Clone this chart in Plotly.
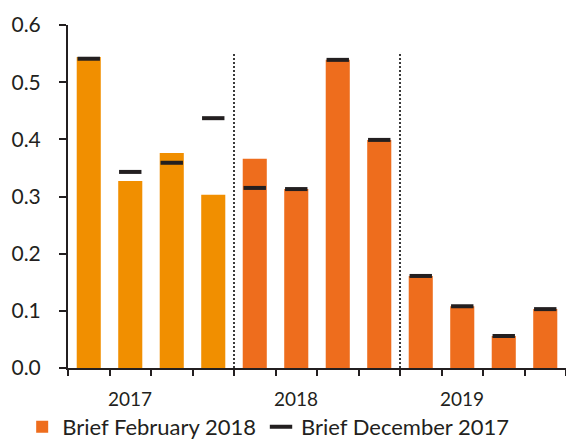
import plotly.graph_objects as go

# ---- data ----
years = ["2017", "2018", "2019"]
quarters_per_year = 4
feb2018 = [0.544, 0.327, 0.376, 0.303, 0.366, 0.313, 0.539, 0.399, 0.161, 0.108, 0.056, 0.103]
dec2017 = [0.541, 0.343, 0.359, 0.437, 0.315, 0.313, 0.539, 0.399, 0.161, 0.108, 0.056, 0.103]
y_ticks = [0.0, 0.1, 0.2, 0.3, 0.4, 0.5, 0.6]
y_tick_text = ["0.0", "0.1", "0.2", "0.3", "0.4", "0.5", "0.6"]
series_names = ["Brief February 2018", "Brief December 2017"]

# ---- styles ----
C_2017 = "#F18F00"
C_BAR = "#EE6D1D"
C_DARK = "#231F20"
FONT = "Lato"

n = len(feb2018)
xs = list(range(n))
x_hist = xs[:quarters_per_year]
x_fut = xs[quarters_per_year:]

fig = go.Figure()
fig.add_trace(go.Bar(
    x=x_fut, y=feb2018[quarters_per_year:], name=series_names[0],
    marker=dict(color=C_BAR, line=dict(width=0)), width=0.58,
    showlegend=True,
))
fig.add_trace(go.Bar(
    x=x_hist, y=feb2018[:quarters_per_year], name=series_names[0],
    marker=dict(color=C_2017, line=dict(width=0)), width=0.58,
    showlegend=False,
))
fig.add_trace(go.Scatter(
    x=xs, y=dec2017, name=series_names[1], mode="markers",
    marker=dict(symbol="line-ew", size=16, color=C_DARK,
                line=dict(width=4, color=C_DARK)),
))

# dotted separators between years
for k in range(1, len(years)):
    xb = k * quarters_per_year - 0.5
    fig.add_shape(type="line", xref="x", yref="y", x0=xb, x1=xb, y0=0, y1=0.552,
                  line=dict(color="#3a3a3a", width=2, dash="2px,2px"), layer="above")

# year labels (under second bar of each group)
for i, yr in enumerate(years):
    fig.add_annotation(x=i * quarters_per_year + 1, y=-0.09, xref="x", yref="paper",
                       text=yr, showarrow=False, yanchor="middle",
                       font=dict(family=FONT, size=19, color=C_DARK))

bounds = [i - 0.5 for i in range(n + 1)]
fig.update_layout(
    width=566, height=439,
    margin=dict(l=68, r=0, t=25, b=71, autoexpand=False),
    plot_bgcolor="white", paper_bgcolor="white",
    barmode="overlay",
    font=dict(family=FONT, color=C_DARK, size=18),
    xaxis=dict(range=[-0.5, n - 0.5], tickmode="array", tickvals=bounds,
               showticklabels=False, ticks="outside", ticklen=6, tickwidth=2,
               tickcolor=C_DARK, showline=True, linecolor=C_DARK, linewidth=2,
               showgrid=False, zeroline=False),
    yaxis=dict(range=[0, 0.6], tickmode="array", tickvals=y_ticks, ticktext=y_tick_text,
               ticks="outside", ticklen=7, tickwidth=2, tickcolor=C_DARK,
               showline=True, linecolor=C_DARK, linewidth=2, showgrid=False,
               zeroline=False, ticklabelstandoff=14,
               tickfont=dict(family=FONT, size=21, color=C_DARK)),
    legend=dict(orientation="h", x=-0.092, xanchor="left", y=-0.172, yanchor="middle",
                font=dict(family=FONT, size=22, color=C_DARK),
                itemwidth=30, tracegroupgap=0, bgcolor="rgba(0,0,0,0)"),
    showlegend=True,
)

fig.write_html("out.html")
